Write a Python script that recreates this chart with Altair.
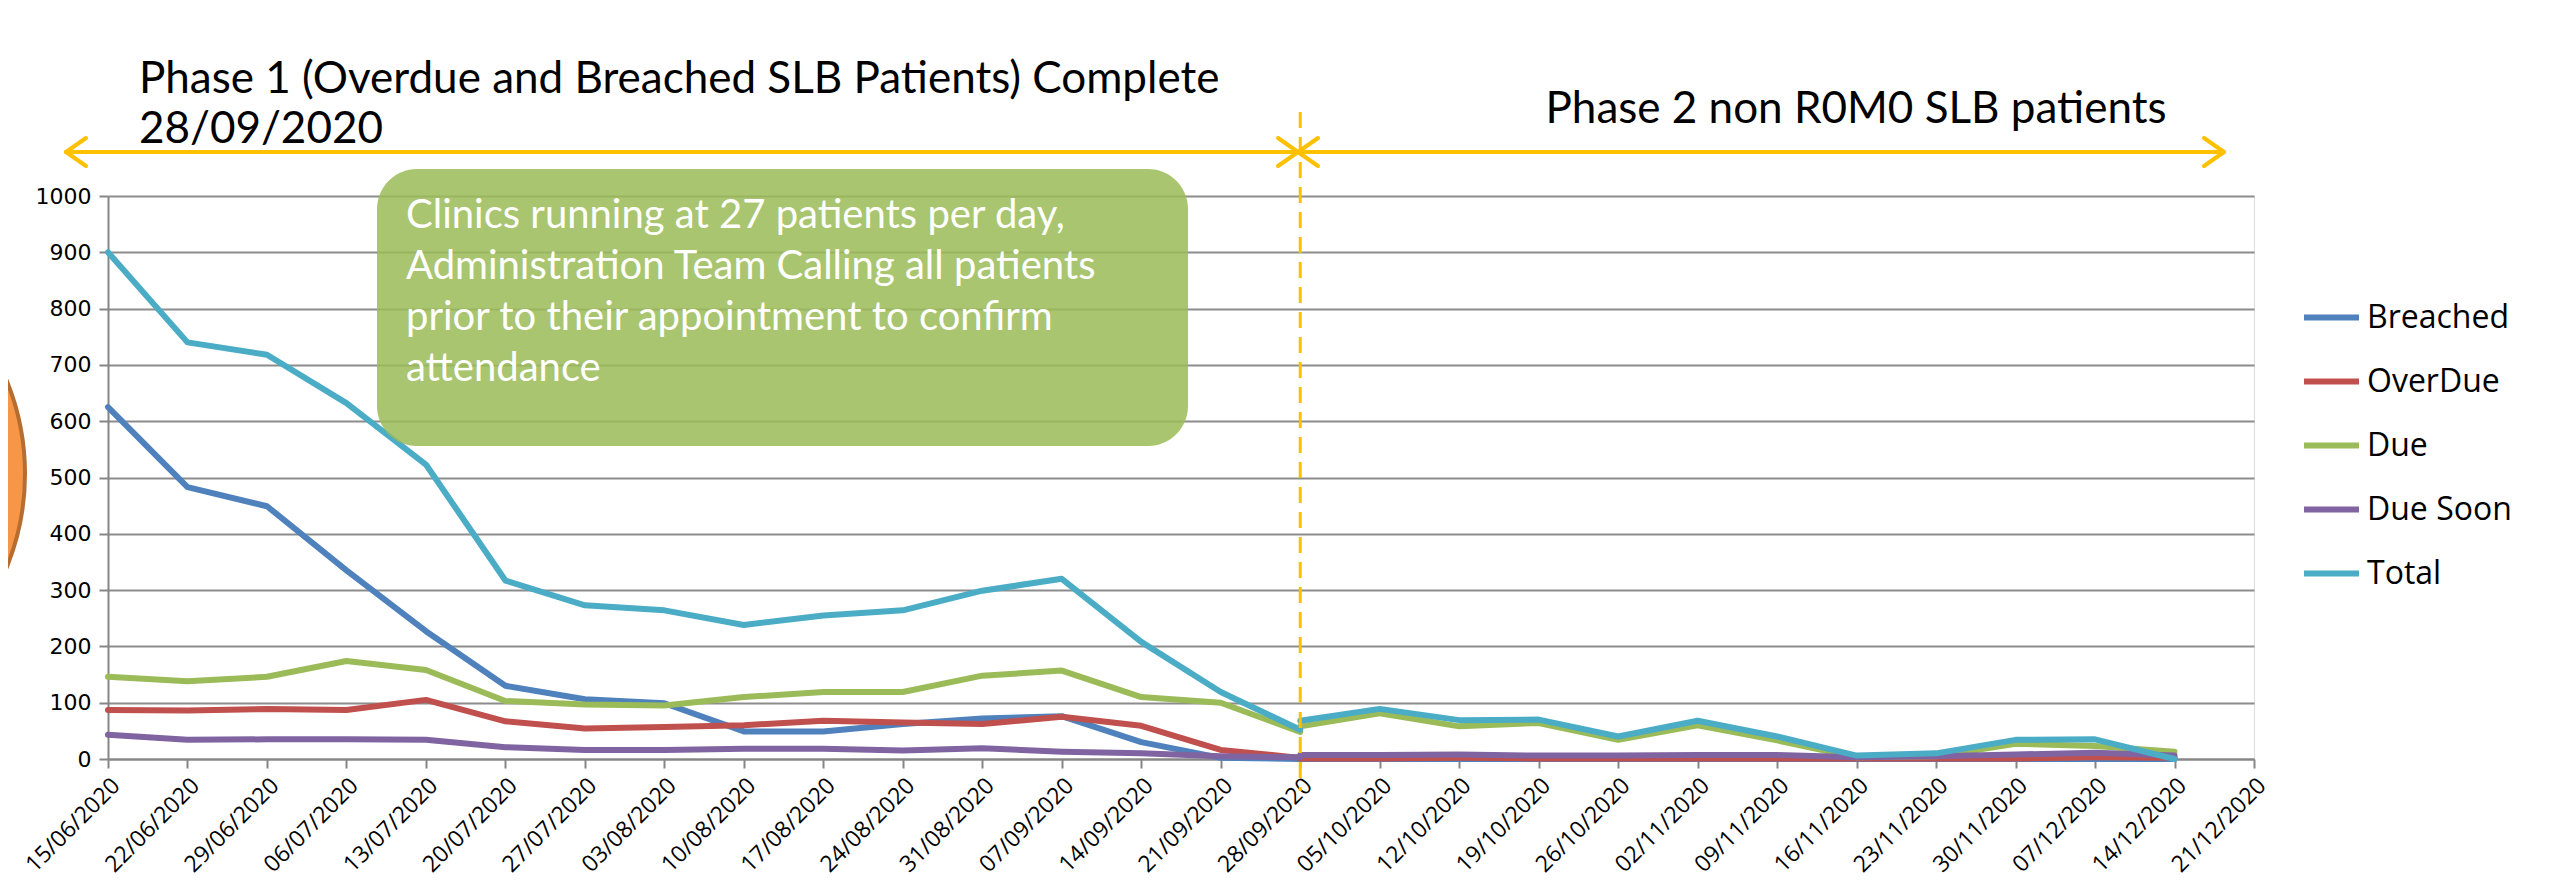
import altair as alt
import pandas as pd

# ---------------- data ----------------
dates = ["15/06/2020", "22/06/2020", "29/06/2020", "06/07/2020", "13/07/2020",
         "20/07/2020", "27/07/2020", "03/08/2020", "10/08/2020", "17/08/2020",
         "24/08/2020", "31/08/2020", "07/09/2020", "14/09/2020", "21/09/2020",
         "28/09/2020", "05/10/2020", "12/10/2020", "19/10/2020", "26/10/2020",
         "02/11/2020", "09/11/2020", "16/11/2020", "23/11/2020", "30/11/2020",
         "07/12/2020", "14/12/2020", "21/12/2020"]
phase1_dates = dates[0:16]
phase2_dates = dates[15:27]

series = ["Breached", "OverDue", "Due", "Due Soon", "Total"]
colors = ["#4F81BD", "#C0504D", "#9BBB59", "#8064A2", "#4BACC6"]

breached_p1 = [625, 483, 449, 335, 227, 130, 106, 99, 49, 49, 62, 72, 76, 30, 2, 0]
overdue_p1 = [87, 86, 89, 87, 105, 67, 54, 57, 60, 68, 65, 62, 75, 59, 16, 2]
due_p1 = [146, 138, 146, 174, 158, 103, 97, 95, 110, 119, 119, 148, 157, 110, 100, 48]
duesoon_p1 = [43, 34, 35, 35, 34, 21, 16, 16, 18, 18, 15, 19, 13, 10, 5, 3]
total_p1 = [900, 740, 718, 632, 523, 317, 273, 264, 238, 255, 264, 299, 320, 208, 119, 52]

breached_p2 = [0, 0, 0, 0, 0, 0, 0, 0, 0, 0, 0, 0]
overdue_p2 = [1, 1, 2, 1, 1, 1, 1, 1, 1, 1, 3, 2]
due_p2 = [58, 81, 58, 64, 34, 60, 33, 3, 5, 27, 23, 13]
duesoon_p2 = [7, 7, 8, 6, 6, 7, 7, 3, 5, 8, 11, 6]
total_p2 = [68, 89, 69, 70, 40, 68, 40, 6, 10, 34, 35, 0]

p1 = dict(zip(series, [breached_p1, overdue_p1, due_p1, duesoon_p1, total_p1]))
p2 = dict(zip(series, [breached_p2, overdue_p2, due_p2, duesoon_p2, total_p2]))

rows = []
for s in series:
    for d, v in zip(phase1_dates, p1[s]):
        rows.append({"date": d, "series": s, "value": v, "phase": "P1", "idx": dates.index(d)})
    for d, v in zip(phase2_dates, p2[s]):
        rows.append({"date": d, "series": s, "value": v, "phase": "P2", "idx": dates.index(d)})
df = pd.DataFrame(rows)

title1 = ["Phase 1 (Overdue and Breached SLB Patients) Complete", "28/09/2020"]
title2 = "Phase 2 non R0M0 SLB patients"
callout = ["Clinics running at 27 patients per day,",
           "Administration Team Calling all patients",
           "prior to their appointment to confirm",
           "attendance"]
phase_split = "28/09/2020"

# ---------------- layout (pixels relative to plot origin) ----------------
W, H = 2146, 563
YEL = "#FFC000"
one = pd.DataFrame({"k": [0]})

xenc = alt.X("date:O", sort=dates, scale=alt.Scale(type="point", padding=0, domain=dates),
             axis=alt.Axis(title=None, labelAngle=-45, labelAlign="right", labelBaseline="top",
                           labelFont="Open Sans", labelFontSize=23, labelColor="black",
                           labelPadding=6, grid=False, domainColor="#868686", domainWidth=2,
                           tickColor="#868686", tickWidth=2, tickSize=9, labelOverlap=False))
yenc = alt.Y("value:Q", scale=alt.Scale(domain=[0, 1000], nice=False),
             axis=alt.Axis(title=None, values=list(range(0, 1001, 100)), format="d",
                           grid=True, gridColor="#8C8C8C", gridWidth=2,
                           domainColor="#868686", domainWidth=2, tickColor="#868686",
                           tickWidth=2, tickSize=9, labelFont="DejaVu Sans",
                           labelFontSize=22, labelColor="black", labelPadding=8))

lines = alt.Chart(df).mark_line(strokeWidth=6, strokeCap="round", strokeJoin="round").encode(
    x=xenc,
    y=yenc,
    color=alt.Color("series:N", sort=series,
                    scale=alt.Scale(domain=series, range=colors),
                    legend=alt.Legend(title=None, orient="none", legendX=2193, legendY=91,
                                      symbolType="stroke", symbolStrokeWidth=6,
                                      symbolSize=3025, labelFont="Open Sans",
                                      labelFontSize=32, labelColor="black", labelOffset=5,
                                      rowPadding=17, padding=0)),
    detail="phase:N",
    order=alt.Order("idx:Q"),
)

split_df = pd.DataFrame({"date": [phase_split]})
dashed = alt.Chart(split_df).mark_rule(color=YEL, strokeWidth=3, strokeDash=[16, 9]).encode(
    x=alt.X("date:O", sort=dates, scale=alt.Scale(type="point", padding=0, domain=dates)),
    y=alt.value(-84), y2=alt.value(595))

# arrows (decorations, pixel coordinates)
ay = -44
xl, xm, xr = -42, 1190, 2116
hl, hw = 20, 14
segs = [
    (xl, ay, xm, ay), (xm, ay, xr, ay),
    (xl, ay, xl + hl, ay - hw), (xl, ay, xl + hl, ay + hw),
    (xm, ay, xm - hl, ay - hw), (xm, ay, xm - hl, ay + hw),
    (xm, ay, xm + hl, ay - hw), (xm, ay, xm + hl, ay + hw),
    (xr, ay, xr - hl, ay - hw), (xr, ay, xr - hl, ay + hw),
]
seg_df = pd.DataFrame(segs, columns=["sx", "sy", "sx2", "sy2"])
arrows = alt.Chart(seg_df).mark_rule(color=YEL, strokeWidth=4, strokeCap="round").encode(
    x=alt.X("sx:Q", scale=None), y=alt.Y("sy:Q", scale=None),
    x2="sx2:Q", y2="sy2:Q")

box = alt.Chart(one).mark_rect(fill="#9BBB59", opacity=0.86, cornerRadius=40).encode(
    x=alt.value(269), x2=alt.value(1080), y=alt.value(-27), y2=alt.value(250))

box_text = alt.Chart(one).mark_text(align="left", baseline="middle", font="Lato",
                                    fontSize=40, color="white", lineHeight=51).encode(
    x=alt.value(298), y=alt.value(20), text=alt.value(callout))

t1 = alt.Chart(one).mark_text(align="left", baseline="middle", font="Lato",
                              fontSize=44, color="black", lineHeight=50).encode(
    x=alt.value(31), y=alt.value(-116), text=alt.value(title1))

t2 = alt.Chart(one).mark_text(align="center", baseline="middle", font="Lato",
                              fontSize=44, color="black").encode(
    x=alt.value(1748), y=alt.value(-86), text=alt.value(title2))

circle = alt.Chart(one).mark_point(shape="circle", filled=True, size=244036,
                                   fill="#F79646", stroke="#B66D31", strokeWidth=4,
                                   opacity=1).encode(
    x=alt.value(-330), y=alt.value(278))

chart = alt.layer(circle, lines, dashed, arrows, box, box_text, t1, t2).properties(
    width=W, height=H,
    autosize=alt.AutoSizeParams(type="none"),
    padding={"left": 100, "top": 188, "right": 300, "bottom": 125},
).configure_view(stroke=None).configure(background="white")

chart.save("out.html", embed_options={"renderer": "svg", "actions": False})
